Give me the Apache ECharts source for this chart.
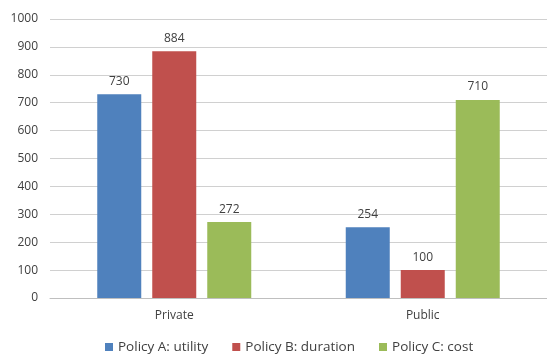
<!DOCTYPE html>
<html><head><meta charset="utf-8">
<script src="https://cdn.jsdelivr.net/npm/echarts@6/dist/echarts.min.js"></script>
<style>html,body{margin:0;padding:0;background:#fff}#c{width:547px;height:355px}</style>
</head><body><div id="c"></div>
<script>
const categories = ['Private', 'Public'];
const seriesNames = ['Policy A: utility', 'Policy B: duration', 'Policy C: cost'];
const policyA = [730, 254];
const policyB = [884, 100];
const policyC = [272, 710];
const colors = ['#4f81bd', '#c0504d', '#9bbb59'];
const font = 'Open Sans';
const chart = echarts.init(document.getElementById('c'), null, {renderer: 'canvas'});
const mk = (name, data, i) => ({
  name, type: 'bar', data, barWidth: 44, barGap: '25%',
  itemStyle: {color: colors[i]},
  label: {show: true, position: 'top', distance: 7, color: '#404040', fontSize: 12, fontFamily: font},
  emphasis: {disabled: true}
});
chart.setOption({
  animation: false,
  grid: {left: 50, right: -6, top: 19, bottom: 57, containLabel: false},
  legend: {
    top: 335, left: 100, itemWidth: 8, itemHeight: 8, itemGap: 24, icon: 'rect',
    padding: [5, 5, 0, 5],
    textStyle: {color: '#404040', fontSize: 13.5, fontFamily: font},
    data: seriesNames
  },
  xAxis: {
    type: 'category', data: categories,
    axisLine: {lineStyle: {color: '#bfbfbf'}}, axisTick: {show: false},
    axisLabel: {color: '#404040', fontSize: 12, fontFamily: font, margin: 12}
  },
  yAxis: {
    type: 'value', min: 0, max: 1000, interval: 100,
    axisLine: {show: false}, axisTick: {show: false},
    splitLine: {lineStyle: {color: '#d0d0d0', width: 1}},
    axisLabel: {color: '#404040', fontSize: 12, fontFamily: font, margin: 12, formatter: v => String(v)}
  },
  series: [mk(seriesNames[0], policyA, 0), mk(seriesNames[1], policyB, 1), mk(seriesNames[2], policyC, 2)]
});
</script></body></html>
